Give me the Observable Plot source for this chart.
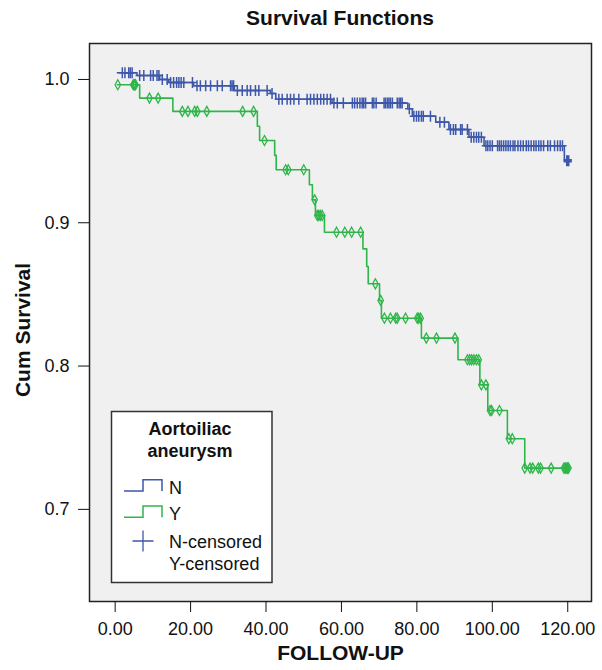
<!DOCTYPE html>
<html>
<head>
<meta charset="utf-8">
<script src="https://cdn.jsdelivr.net/npm/d3@7"></script>
<script src="https://cdn.jsdelivr.net/npm/@observablehq/plot@0.6"></script>
<style>
  body { margin: 0; background: #fff; font-family: "Liberation Sans", Arial, sans-serif; }
  #wrap { position: relative; width: 602px; height: 670px; }
  #title { width: 602px; height: 35px; line-height: 35px; box-sizing: border-box; padding-left: 89px; padding-right: 11px;
           text-align: center; font-size: 21px; font-weight: bold; color: #111; }
  #legend { position: absolute; left: 110px; top: 410px; }
  #ytitle { position: absolute; left: 0; top: 0; }
</style>
</head>
<body>
<div id="wrap">
  <div id="title">Survival Functions</div>
  <div id="chart"></div>
  <svg id="ytitle" width="40" height="670" font-family="Liberation Sans, Arial, sans-serif"></svg>
  <svg id="legend" width="164" height="174" font-family="Liberation Sans, Arial, sans-serif"></svg>
</div>
<script>
// ---------- data ----------
// Group N (no aortoiliac aneurysm): step times and survival levels
const nStepT = [0.6, 5.8, 11.8, 14.2, 20.8, 31.6, 41.2, 42.6, 57.5, 77.6, 78.8, 85.0, 88.5, 93.8, 97.8, 119.1];
const nStepS = [1.0047, 1.0028, 1.0000, 0.9979, 0.9956, 0.9923, 0.9902, 0.9862, 0.9835, 0.9796, 0.9744, 0.9702, 0.9651, 0.9597, 0.9537, 0.9433];
const nEnd = 120.0;
// Group N censored times
const nCensT = [1.9, 2.6, 3.6, 4.0, 4.5, 6.5, 7.6, 9.4, 10.1, 11.1, 11.6, 12.5, 13.8, 14.7, 15.5, 16.3, 16.9, 17.5, 18.2, 20.5,
  21.7, 22.6, 24.0, 25.3, 27.1, 28.4, 30.6, 31.0, 31.4, 32.4, 33.7, 35.0, 35.9, 37.2, 38.1, 40.3, 41.6, 43.4, 44.3, 45.6,
  46.5, 47.4, 48.7, 50.9, 51.8, 52.7, 53.6, 54.5, 55.3, 56.2, 57.1, 58.0, 58.9, 60.5, 62.9, 63.5, 64.2, 64.9, 65.5, 65.9,
  66.4, 68.2, 68.6, 69.2, 71.3, 71.7, 72.2, 72.6, 73.0, 73.5, 74.8, 75.3, 75.7, 76.1, 78.0, 79.2, 79.9, 80.5, 81.2, 81.7,
  83.6, 86.1, 87.3, 88.9, 89.7, 90.3, 91.6, 92.0, 93.4, 94.4, 95.1, 95.8, 96.4, 97.1, 98.3, 98.8, 99.4, 100.0, 101.4, 101.9,
  102.4, 103.0, 103.6, 104.2, 104.8, 105.5, 106.0, 106.8, 107.5, 108.2, 109.0, 109.6, 110.3, 111.0, 111.6, 112.3, 112.9,
  113.6, 114.7, 115.4, 116.5, 117.3, 118.0, 118.6, 120.0];

// Group Y (aortoiliac aneurysm)
const yStepT = [0.6, 6.5, 15.3, 37.7, 38.3, 42.3, 42.7, 51.5, 52.3, 53.1, 55.5, 65.7, 66.7, 67.1, 70.1, 70.6, 81.2, 90.9, 96.7, 98.8, 104.0, 108.6];
const yStepS = [0.9963, 0.9870, 0.9777, 0.9674, 0.9574, 0.9470, 0.9370, 0.9265, 0.9160, 0.9051, 0.8934, 0.8818, 0.8695, 0.8574, 0.8458, 0.8334, 0.8195, 0.8044, 0.7869, 0.7690, 0.7493, 0.7288];
const yEnd = 120.2;
const yCensT = [0.7, 4.8, 5.0, 5.2, 5.4, 9.1, 11.4, 17.8, 19.3, 21.1, 21.8, 24.3, 33.8, 36.7, 39.6, 45.2, 45.9, 50.0, 52.9,
  53.6, 54.0, 54.4, 54.9, 58.7, 60.9, 62.7, 65.1, 69.0, 70.4, 71.4, 73.0, 74.4, 74.8, 77.0, 80.1, 80.5, 81.0, 82.5, 85.2,
  90.1, 93.4, 94.0, 94.5, 95.1, 95.8, 96.4, 97.1, 98.3, 99.4, 99.8, 101.9, 104.4, 105.3, 108.6, 110.0, 110.7, 112.2, 112.8,
  115.6, 119.0, 119.3, 119.6, 119.9, 120.2];

const xTicks = [0, 20, 40, 60, 80, 100, 120];
const yTicks = [0.7, 0.8, 0.9, 1.0];
const groups = ["N", "Y"];
const colors = { N: "#3d57aa", Y: "#2fb54a" };

// ---------- build tables ----------
function survAt(T, S, t) { let s = S[0]; for (let i = 0; i < T.length; i++) if (T[i] <= t) s = S[i]; return s; }
function lineRows(T, S, end) {
  const rows = T.map((t, i) => ({ t, s: S[i] }));
  rows.push({ t: end, s: S[S.length - 1] });
  return rows;
}
const nLine = lineRows(nStepT, nStepS, nEnd);
const yLine = lineRows(yStepT, yStepS, yEnd);
const nCens = nCensT.map(t => ({ t, s: survAt(nStepT, nStepS, t) }));
const yCens = yCensT.map(t => ({ t, s: survAt(yStepT, yStepS, t) }));

const plusSym = { draw(ctx, size) { const r = Math.sqrt(size / Math.PI);
  ctx.moveTo(-r * 0.75, 0); ctx.lineTo(r * 0.75, 0); ctx.moveTo(0, -r); ctx.lineTo(0, r); } };
const diamondSym = { draw(ctx, size) { const r = Math.sqrt(size / Math.PI);
  ctx.moveTo(0, -r); ctx.lineTo(r * 0.55, 0); ctx.lineTo(0, r); ctx.lineTo(-r * 0.55, 0); ctx.closePath(); } };

const chart = Plot.plot({
  width: 602, height: 635,
  marginTop: 8, marginLeft: 89, marginRight: 11, marginBottom: 69,
  x: { domain: [-6.8, 126.3] },
  y: { domain: [0.6357, 1.0251] },
  style: { fontFamily: "Liberation Sans, Arial, sans-serif", fontSize: "18px", color: "#111", background: "transparent" },
  marks: [
    Plot.frame({ fill: "#f0f0f0" }),
    Plot.line(nLine, { x: "t", y: "s", curve: "step-after", stroke: colors.N, strokeWidth: 1.6 }),
    Plot.line(yLine, { x: "t", y: "s", curve: "step-after", stroke: colors.Y, strokeWidth: 1.6 }),
    Plot.dot(nCens.filter(d => d.t < 120), { x: "t", y: "s", symbol: plusSym, r: 5.5, fill: "none", stroke: colors.N, strokeWidth: 1.5 }),
    Plot.dot(nCens.filter(d => d.t >= 120), { x: "t", y: "s", symbol: plusSym, r: 5.5, fill: "none", stroke: colors.N, strokeWidth: 3.5 }),
    Plot.dot(yCens, { x: "t", y: "s", symbol: diamondSym, r: 5, fill: "none", stroke: colors.Y, strokeWidth: 1.3 }),
    Plot.frame({ stroke: "#222", strokeWidth: 1.5 }),
    Plot.axisX({ ticks: xTicks, tickFormat: d3.format(".2f"), tickSize: 11, tickPadding: 10, label: null, fontSize: 18 }),
    Plot.axisY({ ticks: yTicks, tickFormat: d3.format(".1f"), tickSize: 11, tickPadding: 9, label: null, fontSize: 18 }),
    Plot.text(["FOLLOW-UP"], { frameAnchor: "bottom", dy: 58.6, fontSize: 21, fontWeight: "bold" })
  ]
});
document.getElementById("chart").appendChild(chart);

// ---------- y-axis title ----------
d3.select("#ytitle").append("text")
  .attr("transform", "translate(29.5,330) rotate(-90)")
  .attr("text-anchor", "middle").attr("font-size", 21).attr("font-weight", "bold").attr("fill", "#111")
  .text("Cum Survival");

// ---------- legend ----------
const lg = d3.select("#legend");
lg.append("rect").attr("x", 1.5).attr("y", 1.5).attr("width", 160.5).attr("height", 171)
  .attr("fill", "#fff").attr("stroke", "#333").attr("stroke-width", 1.5);
lg.append("text").attr("x", 80).attr("y", 25).attr("text-anchor", "middle").attr("font-size", 18).attr("font-weight", "bold").attr("fill", "#111").text("Aortoiliac");
lg.append("text").attr("x", 80).attr("y", 47).attr("text-anchor", "middle").attr("font-size", 18).attr("font-weight", "bold").attr("fill", "#111").text("aneurysm");
const rowsY = { N: 81, Y: 107.3 };
groups.forEach(g => {
  const b = rowsY[g];
  lg.append("path").attr("d", `M14,${b}H33V${b - 11.2}H52V${b}`).attr("fill", "none").attr("stroke", colors[g]).attr("stroke-width", 1.5);
  lg.append("text").attr("x", 59).attr("y", b + 2.5).attr("font-size", 18).attr("fill", "#111").text(g);
});
lg.append("path").attr("d", "M22.5,131H43.5M33,120.5V141.5").attr("fill", "none").attr("stroke", colors.N).attr("stroke-width", 1.3);
lg.append("text").attr("x", 59).attr("y", 137.7).attr("font-size", 18).attr("fill", "#111").text("N-censored");
lg.append("text").attr("x", 59).attr("y", 160).attr("font-size", 18).attr("fill", "#111").text("Y-censored");
</script>
</body>
</html>
